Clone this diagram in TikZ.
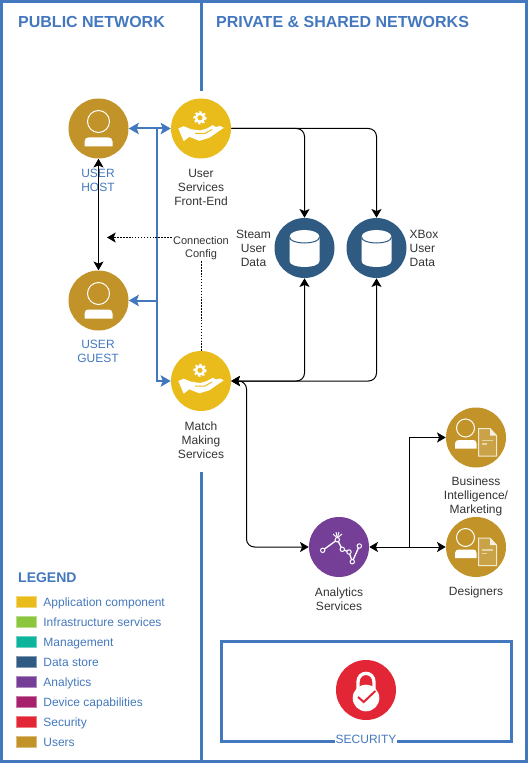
\documentclass[tikz,border=0pt]{standalone}
\usepackage{fontspec}
\setmainfont{Liberation Sans}
\usetikzlibrary{arrows.meta}
\definecolor{netblue}{HTML}{4478BE}
\definecolor{textdark}{HTML}{333333}
\definecolor{appyellow}{HTML}{E9BC1C}
\definecolor{infragreen}{HTML}{8CC63F}
\definecolor{mgmtteal}{HTML}{0CB49C}
\definecolor{datanavy}{HTML}{2F5B82}
\definecolor{analytpurple}{HTML}{753F98}
\definecolor{devmagenta}{HTML}{A6226D}
\definecolor{secred}{HTML}{E32636}
\definecolor{usergold}{HTML}{C19328}
\tikzset{
	svc/.style={circle,fill=#1,minimum size=45pt,inner sep=0pt},
	nettitle/.style={anchor=west,text=netblue,font=\fontsize{12}{14}\selectfont\bfseries},
	caption/.style={align=center,text=textdark,font=\fontsize{9}{10.5}\selectfont},
	usercaption/.style={align=center,text=netblue,font=\fontsize{9}{10.5}\selectfont},
	swatch/.style={rectangle,draw=#1!60!white,fill=#1,line width=0.75pt,minimum width=15.5pt,minimum height=8pt,inner sep=0pt},
	legtext/.style={anchor=west,text=netblue,text height=6.6pt,text depth=1.9pt,font=\fontsize{9}{10.5}\selectfont},
	netwall/.style={draw=netblue,line width=2.25pt},
	netlink/.style={draw=netblue,line width=1.5pt,{Stealth[length=7.5pt,width=8.5pt,inset=1.5pt]}-{Stealth[length=7.5pt,width=8.5pt,inset=1.5pt]}},
	netline/.style={draw=netblue,line width=1.5pt},
	nettip/.style={-{Stealth[length=7.5pt,width=8.5pt,inset=1.5pt]}},
	flow/.style={draw=black,line width=0.75pt,rounded corners=6pt},
	flowtip/.style={-{Stealth[length=6.5pt,width=7.5pt,inset=1.5pt]}},
	flowboth/.style={{Stealth[length=6.5pt,width=7.5pt,inset=1.5pt]}-{Stealth[length=6.5pt,width=7.5pt,inset=1.5pt]}},
	cfgline/.style={draw=black,line width=0.75pt,dash pattern=on 1.1pt off 1.1pt},
	pics/userfig/.style={code={
		\draw [white,line width=0.75pt] (0,-7) circle (11);
		\fill [white] (-14,18) -- (-14,13) .. controls (-14,10) and (-12,9) .. (-10,9) -- (10,9) .. controls (12,9) and (14,10) .. (14,13) -- (14,18) -- cycle;
	}},
	pics/reportfig/.style={code={
		\draw [white,line width=0.75pt] (-10.5,-9.5) circle (9);
		\fill [white] (-21,11) -- (-21,6) .. controls (-21,3.5) and (-19,2.5) .. (-17,2.5) -- (-3,2.5) .. controls (-1,2.5) and (0.5,3.5) .. (0.5,6) -- (0.5,11) -- cycle;
		\draw [draw=white!80!usergold,fill=usergold!85!white,line width=0.75pt] (2.5,-9) -- (14,-9) -- (20.5,-2) -- (20.5,18.5) -- (2.5,18.5) -- cycle;
		\fill [white!85!usergold] (14,-9) -- (14,-2) -- (20.5,-2) -- cycle;
		\draw [white!60!usergold,line width=1.2pt] (6,3) -- (17,3);
		\draw [white!60!usergold,line width=1.2pt] (6,6.5) -- (11,6.5);
	}},
	pics/handfig/.style={code={
		\draw [white,line width=1.6pt,dash pattern=on 1.6pt off 1.55pt] (-1,-10.7) circle (5.6);
		\draw [white,line width=1.8pt] (-1,-10.7) circle (4);
		\fill [white] (-22.7,0) -- (-17.3,-2.3) -- (-10,0.7) -- (-0.7,2) -- (6,0) -- (11.7,-3.3) -- (15,-1.5) -- (19,-2.5) -- (22.7,-0.7) -- (8.3,9.3) -- (-1.7,12.3) -- (-11.7,8.3) -- (-17.3,12.7) -- cycle;
		\draw [appyellow,line width=0.75pt] (-6,5) -- (4,5) -- (11,1);
	}},
	pics/dbfig/.style={code={
		\fill [white] (-15,-11) .. controls (-15,-20.3) and (15,-20.3) .. (15,-11) -- (15,13) .. controls (15,21) and (-15,21) .. (-15,13) -- cycle;
		\draw [datanavy,line width=0.75pt] (-15,-11) .. controls (-15,-3) and (15,-3) .. (15,-11);
	}},
	pics/trendfig/.style={code={
		\draw [white,line width=1pt] (-16.3,3.3) -- (-1.7,-7.3) -- (3.3,2.3) -- (10,5) -- (13.3,14.7) -- (20.3,-1);
		\draw [white,line width=0.7pt] (-1.7,-9) -- (-6,-13);
		\draw [white,line width=0.7pt] (-1.7,-9) -- (-3,-15);
		\draw [white,line width=0.7pt] (-1.7,-9) -- (0,-15);
		\draw [white,line width=0.7pt] (-1.7,-9) -- (3,-13);
		\draw [white,fill=analytpurple,line width=0.75pt] (-16.3,3.3) circle (2.2);
		\draw [white,fill=analytpurple,line width=0.75pt] (-1.7,-7.3) circle (2.2);
		\draw [white,fill=analytpurple,line width=0.75pt] (3.3,2.3) circle (2.2);
		\draw [white,fill=analytpurple,line width=0.75pt] (10,5) circle (2.2);
		\draw [white,fill=analytpurple,line width=0.75pt] (13.3,14.7) circle (2.2);
		\draw [white,fill=analytpurple,line width=0.75pt] (20.3,-1) circle (2.2);
	}},
	pics/lockfig/.style={code={
		\draw [white,line width=2.5pt] (-8,3) -- (-8,-8) .. controls (-8,-19.5) and (8,-19.5) .. (8,-8) -- (8,3);
		\fill [white] (0,8) circle (13.3);
		\draw [secred,line width=1.5pt] (-8,7) -- (-2.3,12) -- (9.3,1);
	}},
}
\begin{document}
\begin{tikzpicture}[x=0.75pt,y=-0.75pt]
	\useasboundingbox (0,0) rectangle (528,763);
	% walls
	\draw [netwall] (1.5,1.5) rectangle (526.5,761.5);
	\draw [netwall] (201.5,1.5) -- (201.5,91);
	\draw [netwall] (201.5,472) -- (201.5,761.5);
	\draw [netwall] (221.5,641.5) rectangle (511.5,741.5);
	\node (pubtitle) [nettitle] at (13.5,22) {PUBLIC NETWORK};
	\node (privtitle) [nettitle] at (211.5,22) {PRIVATE \& SHARED NETWORKS};

	% services
	\node (host) [svc=usergold] at (98.5,128.5) {};
	\node (front) [svc=appyellow] at (201,128.5) {};
	\node (guest) [svc=usergold] at (98.5,300.5) {};
	\node (match) [svc=appyellow] at (201,381) {};
	\node (steam) [svc=datanavy] at (304.5,248) {};
	\node (xbox) [svc=datanavy] at (376.5,248) {};
	\node (analytics) [svc=analytpurple] at (339,547) {};
	\node (market) [svc=usergold] at (476,437.5) {};
	\node (designers) [svc=usergold] at (476,547) {};
	\node (security) [svc=secred] at (366,690) {};
	\pic at (host) {userfig};
	\pic at (guest) {userfig};
	\pic at (front) {handfig};
	\pic at (match) {handfig};
	\pic at (steam) {dbfig};
	\pic at (xbox) {dbfig};
	\pic at (analytics) {trendfig};
	\pic at (market) {reportfig};
	\pic at (designers) {reportfig};
	\pic at (security) {lockfig};

	% captions
	\node (hostcap) [usercaption] at (98,180) {USER\\HOST};
	\node (guestcap) [usercaption] at (98,351) {USER\\GUEST};
	\node (frontcap) [caption] at (201,187) {User\\Services\\Front-End};
	\node (matchcap) [caption] at (201,440) {Match\\Making\\Services};
	\node (steamcap) [caption] at (253.5,248.5) {Steam\\User\\Data};
	\node (xboxcap) [caption,align=left,anchor=west] at (405,248.5) {XBox\\User\\Data};
	\node (analyticscap) [caption] at (339,599) {Analytics\\Services};
	\node (marketcap) [caption] at (476,496) {Business\\Intelligence/\\Marketing};
	\node (designerscap) [caption] at (476,592) {Designers};

	% public side links
	\coordinate (bluetop) at (157,128.5);
	\coordinate (bluemid) at (157,300.5);
	\draw [flow,flowboth] (host) -- (guest);
	\draw [netlink] (host) -- (front);
	\draw [netline,nettip] (bluetop) |- (match);
	\draw [netline,nettip] (bluemid) -- (guest);

	% config link
	\node (config) [caption,fill=white,inner sep=1pt,font=\fontsize{8.25}{9.9}\selectfont] at (201,248) {Connection\\Config};
	\coordinate (cfgend) at (107,237.5);
	\draw [cfgline] (config) -- (match);
	\draw [cfgline,-{Stealth[length=6.5pt,width=7.5pt,inset=1.5pt]}] (config.west |- cfgend) -- (cfgend);

	% data links
	\coordinate (anatop) at (246.5,381);
	\coordinate (anabot) at (246.5,547);
	\coordinate (branch) at (409,547);
	\draw [flow,flowtip] (front) -| (steam);
	\draw [flow,flowtip] (front) -| (xbox);
	\draw [flow,flowboth] (match) -| (steam);
	\draw [flow,flowboth] (match) -| (xbox);
	\draw [flow,flowboth] (match) -- (anatop) -- (anabot) -- (analytics);
	\draw [flow,flowboth] (analytics) -- (designers);
	\draw [flow,flowtip,rounded corners=0pt] (branch) |- (market);

	% legend
	\node (legtitle) [nettitle,font=\fontsize{10.5}{12}\selectfont\bfseries] at (13.5,578) {LEGEND};
	\node (swapp) [swatch=appyellow] at (26.5,602) {};
	\node (swinfra) [swatch=infragreen] at (26.5,622) {};
	\node (swmgmt) [swatch=mgmtteal] at (26.5,642) {};
	\node (swdata) [swatch=datanavy] at (26.5,662) {};
	\node (swana) [swatch=analytpurple] at (26.5,682) {};
	\node (swdev) [swatch=devmagenta] at (26.5,702) {};
	\node (swsec) [swatch=secred] at (26.5,722) {};
	\node (swuser) [swatch=usergold] at (26.5,742) {};
	\node (ltapp) [legtext] at (38.7,603.5) {Application component};
	\node (ltinfra) [legtext] at (38.7,623.5) {Infrastructure services};
	\node (ltmgmt) [legtext] at (38.7,643.5) {Management};
	\node (ltdata) [legtext] at (38.7,663.5) {Data store};
	\node (ltana) [legtext] at (38.7,683.5) {Analytics};
	\node (ltdev) [legtext] at (38.7,703.5) {Device capabilities};
	\node (ltsec) [legtext] at (38.7,723.5) {Security};
	\node (ltuser) [legtext] at (38.7,743.5) {Users};

	\node (seccap) [usercaption,fill=white,inner sep=0.5pt] at (366,739) {SECURITY};
\end{tikzpicture}
\end{document}
